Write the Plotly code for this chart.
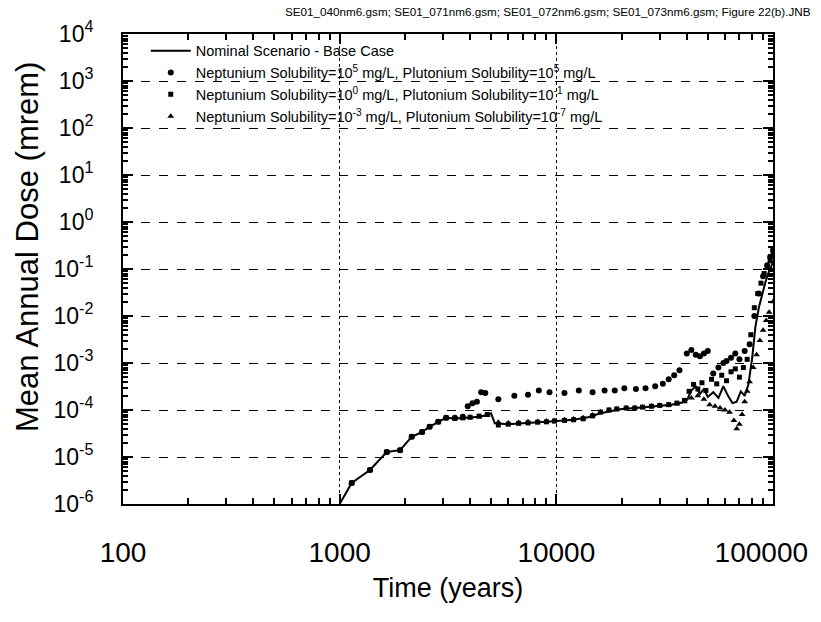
import plotly.graph_objects as go

# ---------------- data ----------------
base_t = [1000, 1136, 1380, 1650, 1900, 2150, 2400, 2600, 2850, 3100, 3400, 3700, 4000, 4400,
          4800, 5000, 5200, 6000, 7000, 8000, 9000, 10000, 12000, 14000, 16000, 18000, 20000,
          23000, 26000, 30000, 34000, 38000, 40000, 42000, 44000, 46000, 48000, 50000, 53000,
          56000, 59000, 62000, 65000, 68000, 71000, 74000, 77000, 80000, 83000, 86000, 89000,
          92000, 95000, 98000, 100000]
base_v = [1.0e-6, 2.8e-6, 5.3e-6, 1.28e-5, 1.4e-5, 2.7e-5, 3.4e-5, 4.4e-5, 5.6e-5, 6.8e-5,
          6.6e-5, 6.8e-5, 7.0e-5, 7.2e-5, 7.8e-5, 8.5e-5, 5.2e-5, 5.0e-5, 5.2e-5, 5.5e-5,
          5.6e-5, 5.8e-5, 6.2e-5, 7.0e-5, 8.5e-5, 9.5e-5, 1.05e-4, 1.1e-4, 1.15e-4, 1.25e-4,
          1.3e-4, 1.45e-4, 1.6e-4, 2.6e-4, 3.2e-4, 2.2e-4, 2.8e-4, 1.9e-4, 2.4e-4, 1.8e-4,
          3.2e-4, 2.0e-4, 1.4e-4, 1.5e-4, 2.5e-4, 2.0e-4, 3.5e-4, 1.2e-3, 6e-3, 1.5e-2, 3e-2,
          5e-2, 8e-2, 1.1e-1, 1.5e-1]

np5_t = [1136, 1380, 1650, 1900, 2150, 2400, 2600, 2850, 3100, 3400, 3700, 3900, 4100, 4300,
         4500, 4700, 5400, 6400, 7400, 8300, 9300, 10900, 12700, 14700, 16700, 18600, 20600,
         23300, 25800, 28600, 31000, 33000, 35000, 37000, 40000, 42000, 44000, 46000, 48000,
         50000, 53000, 56000, 59000, 61000, 64000, 67000, 70000, 74000, 78000, 82000, 86000,
         90000, 94000, 97000, 100000]
np5_v = [2.8e-6, 5.3e-6, 1.28e-5, 1.4e-5, 2.7e-5, 3.4e-5, 4.4e-5, 5.6e-5, 6.8e-5, 6.8e-5,
         7.2e-5, 1.2e-4, 1.4e-4, 1.5e-4, 2.4e-4, 2.3e-4, 1.7e-4, 2.0e-4, 2.1e-4, 2.6e-4,
         2.4e-4, 2.3e-4, 2.6e-4, 2.4e-4, 2.6e-4, 2.6e-4, 2.9e-4, 2.8e-4, 2.9e-4, 3.2e-4,
         3.6e-4, 4.5e-4, 5.5e-4, 7e-4, 1.6e-3, 1.9e-3, 1.5e-3, 1.4e-3, 1.6e-3, 1.8e-3, 6e-4,
         8e-4, 1.0e-3, 1.1e-3, 1.3e-3, 1.6e-3, 1.2e-3, 1.8e-3, 2.5e-3, 1e-2, 3e-2, 7e-2,
         0.12, 0.18, 0.25]

np0_t = [1136, 1380, 1650, 1900, 2150, 2400, 2600, 2850, 3100, 3400, 3700, 4000, 4400, 4800,
         5400, 6000, 6700, 7400, 8200, 9000, 9800, 10900, 12000, 13300, 14700, 16000, 17500,
         19000, 21000, 23000, 25000, 27500, 30000, 33000, 36000, 39000, 41000, 43000, 45000,
         47000, 49000, 52000, 55000, 58000, 61000, 64000, 67000, 70000, 73000, 76000, 79000,
         82000, 85000, 88000, 91000, 94000, 97000, 100000]
np0_v = [2.8e-6, 5.3e-6, 1.28e-5, 1.4e-5, 2.7e-5, 3.4e-5, 4.4e-5, 5.6e-5, 6.8e-5, 6.6e-5,
         6.8e-5, 7.0e-5, 7.4e-5, 8.0e-5, 4.8e-5, 5.0e-5, 5.2e-5, 5.3e-5, 5.5e-5, 5.6e-5,
         5.8e-5, 6.0e-5, 6.2e-5, 6.5e-5, 7.5e-5, 9.0e-5, 1.0e-4, 1.05e-4, 1.1e-4, 1.1e-4,
         1.15e-4, 1.2e-4, 1.25e-4, 1.3e-4, 1.4e-4, 1.6e-4, 2.5e-4, 3.5e-4, 2.8e-4, 3.8e-4,
         2.6e-4, 4.5e-4, 3.6e-4, 5.5e-4, 4.2e-4, 6.5e-4, 7.5e-4, 5e-4, 8e-4, 1.2e-3, 4e-3,
         1.5e-2, 3e-2, 5e-2, 8e-2, 1.1e-1, 1.5e-1, 2.0e-1]

npm3_t = [1136, 1380, 1650, 1900, 2150, 2400, 2600, 2850, 3100, 3400, 3700, 4000, 4400, 4800,
          5400, 6000, 6700, 7400, 8200, 9000, 9800, 10900, 12000, 13300, 14700, 16000, 17500,
          19000, 21000, 23000, 25000, 27500, 30000, 33000, 36000, 39000, 42000, 45000, 48000,
          51000, 54000, 57000, 60000, 63000, 66000, 68000, 70000, 72000, 74000, 76000, 78000,
          81000, 84000, 87000, 90000, 93000, 96000, 100000]
npm3_v = [2.8e-6, 5.3e-6, 1.28e-5, 1.4e-5, 2.7e-5, 3.4e-5, 4.4e-5, 5.6e-5, 6.8e-5, 6.6e-5,
          6.8e-5, 7.0e-5, 7.2e-5, 7.8e-5, 5.5e-5, 5.3e-5, 5.4e-5, 5.6e-5, 5.7e-5, 5.8e-5,
          6.0e-5, 6.2e-5, 6.4e-5, 6.8e-5, 7.8e-5, 9.2e-5, 1.0e-4, 1.05e-4, 1.1e-4, 1.12e-4,
          1.15e-4, 1.2e-4, 1.25e-4, 1.3e-4, 1.35e-4, 1.5e-4, 1.8e-4, 2.0e-4, 1.7e-4, 1.3e-4,
          1.2e-4, 1.1e-4, 1.0e-4, 9e-5, 6e-5, 4e-5, 5e-5, 8e-5, 1.5e-4, 2.5e-4, 4e-4, 8e-4,
          1.5e-3, 3e-3, 5e-3, 8e-3, 1.2e-2, 2e-2]

y_tickvals = [1e4, 1e3, 1e2, 1e1, 1e0, 1e-1, 1e-2, 1e-3, 1e-4, 1e-5, 1e-6]
y_ticktext = ["10<sup>4</sup>", "10<sup>3</sup>", "10<sup>2</sup>", "10<sup>1</sup>",
              "10<sup>0</sup>", "10<sup>-1</sup>", "10<sup>-2</sup>", "10<sup>-3</sup>",
              "10<sup>-4</sup>", "10<sup>-5</sup>", "10<sup>-6</sup>"]
x_tickvals = [100, 1000, 10000, 100000]
# the last label sits a little left of its tick in the reference (kept inside the page)
x_ticktext = ["100", "1000", "10000", "100000\u00a0\u00a0\u00a0"]

legend_names = [
    "Nominal Scenario - Base Case",
    "Neptunium Solubility=10<sup>5</sup> mg/L, Plutonium Solubility=10<sup>5</sup> mg/L",
    "Neptunium Solubility=10<sup>0</sup> mg/L, Plutonium Solubility=10<sup>-1</sup> mg/L",
    "Neptunium Solubility=10<sup>-3</sup> mg/L, Plutonium Solubility=10<sup>-7</sup> mg/L",
]
header = ("SE01_040nm6.gsm; SE01_071nm6.gsm; SE01_072nm6.gsm; "
          "SE01_073nm6.gsm; Figure 22(b).JNB")
y_title = "Mean Annual Dose (mrem)"

# minor tick positions (2..9 within each decade) for the log axes
x_minor = [m * 10 ** e for e in range(2, 5) for m in range(2, 10)]
y_minor = [m * 10.0 ** e for e in range(-6, 4) for m in range(2, 10)]

REG = "Liberation Sans, Arial, sans-serif"

fig = go.Figure()
# empty helper trace so that the overlaid minor-tick axes are drawn
fig.add_trace(go.Scatter(x=[], y=[], xaxis="x2", yaxis="y2", showlegend=False,
                         hoverinfo="skip"))
fig.add_trace(go.Scatter(x=base_t, y=base_v, mode="lines", name=legend_names[0],
                         line=dict(color="black", width=2)))
fig.add_trace(go.Scatter(x=np5_t, y=np5_v, mode="markers", name=legend_names[1],
                         marker=dict(symbol="circle", size=6, color="black")))
fig.add_trace(go.Scatter(x=np0_t, y=np0_v, mode="markers", name=legend_names[2],
                         marker=dict(symbol="square", size=5, color="black")))
fig.add_trace(go.Scatter(x=npm3_t, y=npm3_v, mode="markers", name=legend_names[3],
                         marker=dict(symbol="triangle-up", size=6, color="black")))

fig.update_layout(
    width=821, height=622,
    margin=dict(l=115, r=56, t=26, b=126, autoexpand=False),
    paper_bgcolor="white", plot_bgcolor="white",
    showlegend=True,
    legend=dict(x=0.035, y=0.9985, xanchor="left", yanchor="top",
                bgcolor="rgba(0,0,0,0)", borderwidth=0,
                font=dict(family=REG, size=14.5, color="black"),
                tracegroupgap=0, itemwidth=40, traceorder="normal"),
    annotations=[
        dict(text=header, xref="paper", yref="paper", x=1.062, y=1.0,
             xanchor="right", yanchor="middle", yshift=23, showarrow=False,
             font=dict(family=REG, size=11.7, color="black")),
        dict(text=y_title, xref="paper", yref="paper", x=-0.146, y=0.547,
             xanchor="center", yanchor="middle", textangle=-90, showarrow=False,
             font=dict(family=REG, size=31, color="black")),
    ],
    xaxis=dict(
        type="log", range=[2, 5], automargin=False,
        tickmode="array", tickvals=x_tickvals, ticktext=x_ticktext,
        ticks="inside", ticklen=10, tickwidth=2, tickcolor="black",
        showline=True, linewidth=2, linecolor="black", mirror="ticks",
        showgrid=True, gridcolor="black", gridwidth=1, griddash="dot",
        zeroline=False,
        tickfont=dict(family=REG, size=28, color="black"),
        ticklabelstandoff=22, ticklabeloverflow="allow",
        title=dict(text="Time (years)", font=dict(family=REG, size=27, color="black"),
                   standoff=12),
    ),
    yaxis=dict(
        type="log", range=[-6, 4], automargin=False,
        tickmode="array", tickvals=y_tickvals, ticktext=y_ticktext,
        ticks="inside", ticklen=10, tickwidth=2, tickcolor="black",
        showline=True, linewidth=2, linecolor="black", mirror="ticks",
        showgrid=True, gridcolor="black", gridwidth=1, griddash="dash",
        zeroline=False,
        tickfont=dict(family=REG, size=23, color="black"),
        ticklabelstandoff=23, ticklabeloverflow="allow",
    ),
    xaxis2=dict(
        type="log", range=[2, 5], overlaying="x", anchor="y2", side="bottom",
        automargin=False,
        tickmode="array", tickvals=x_minor, showticklabels=False,
        ticks="inside", ticklen=6, tickwidth=1.5, tickcolor="black",
        showline=False, mirror="ticks", showgrid=False, zeroline=False,
    ),
    yaxis2=dict(
        type="log", range=[-6, 4], overlaying="y", anchor="x2", side="left",
        automargin=False,
        tickmode="array", tickvals=y_minor, showticklabels=False,
        ticks="inside", ticklen=5, tickwidth=1.5, tickcolor="black",
        showline=False, mirror="ticks", showgrid=False, zeroline=False,
    ),
)

fig.write_html("out.html")
